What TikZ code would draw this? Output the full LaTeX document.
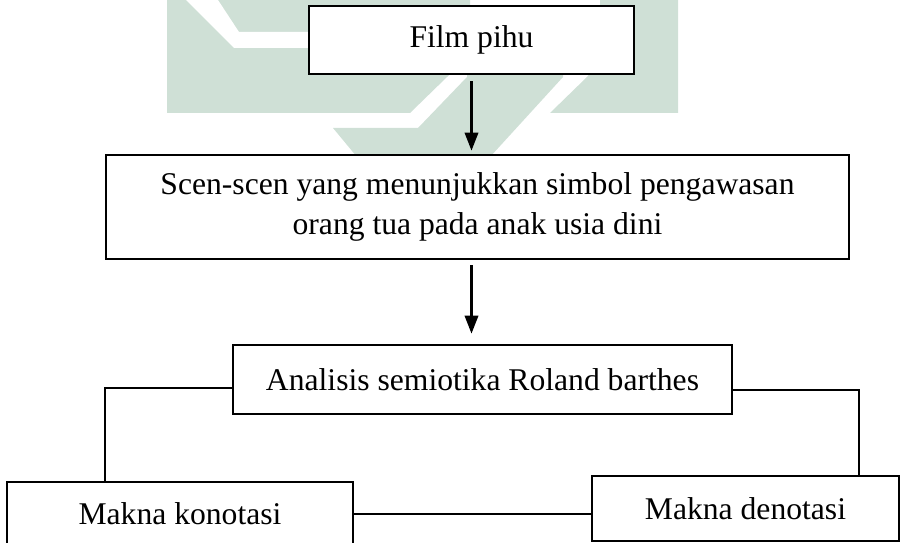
\documentclass[tikz,border=0pt]{standalone}
\usepackage{fontspec}
\setmainfont{Liberation Serif}
\usetikzlibrary{arrows.meta,positioning}

\definecolor{logogreen}{RGB}{207,224,214}

\tikzset{
  box/.style={draw, line width=1.6pt, fill=white, align=center, inner sep=0pt,
    font=\fontsize{18}{23}\selectfont},
  arr/.style={line width=1.2pt, -{Triangle[length=0.36cm,width=0.27cm]}},
  link/.style={line width=1.1pt}
}

\begin{document}
\begin{tikzpicture}[x=0.02cm, y=-0.02cm]
  \useasboundingbox (0,0) rectangle (903,543);
  \clip (0,0) rectangle (903,543);
  % Watermark
  \fill[logogreen] (167,0) -- (470,0) -- (470,55) -- (447,77) -- (410,113) -- (167,113) -- cycle;
  \fill[white] (186,0) -- (218,0) -- (239,32) -- (470,32) -- (470,48) -- (234,48) -- cycle;
  \fill[logogreen] (333,128) -- (418,128) -- (467,77) -- (467,60) -- (563,60) -- (563,77) -- (490,157) -- (357,157) -- cycle;
  \fill[logogreen] (550,113) -- (587,77) -- (600,60) -- (600,0) -- (678,0) -- (678,113) -- cycle;
  % Boxes
  \node[box, minimum width=6.5cm, minimum height=1.36cm] (film) at (471.5,40) {Film pihu};
  \node[box, minimum width=14.86cm, minimum height=2.08cm] (scen) at (477.5,207)
    {Scen-scen yang menunjukkan simbol pengawasan\\ orang tua pada anak usia dini};
  \node[box, minimum width=9.98cm, minimum height=1.38cm] (anal) at (482.5,379.5) {Analisis semiotika Roland barthes};
  \node[box, minimum width=6.92cm, minimum height=1.28cm] (kono) at (180,514) {Makna konotasi};
  \node[box, minimum width=6.14cm, minimum height=1.3cm] (deno) at (745.5,508.5) {Makna denotasi};
  % Arrows
  \draw[arr, shorten <=0.12cm, shorten >=0.06cm] (film.south) -- (film.south |- scen.north);
  \draw[arr, shorten <=0.1cm, shorten >=0.2cm] (film.south |- scen.south) -- (film.south |- anal.north);
  % Links to the two meanings
  \draw[link] ([yshift=-0.17cm]anal.west) -| ([xshift=-1.5cm]kono.north);
  \draw[link] ([yshift=-0.21cm]anal.east) -| ([xshift=2.27cm]deno.north);
  \draw[link] (kono.east) -- (kono.east -| deno.west);
\end{tikzpicture}
\end{document}
